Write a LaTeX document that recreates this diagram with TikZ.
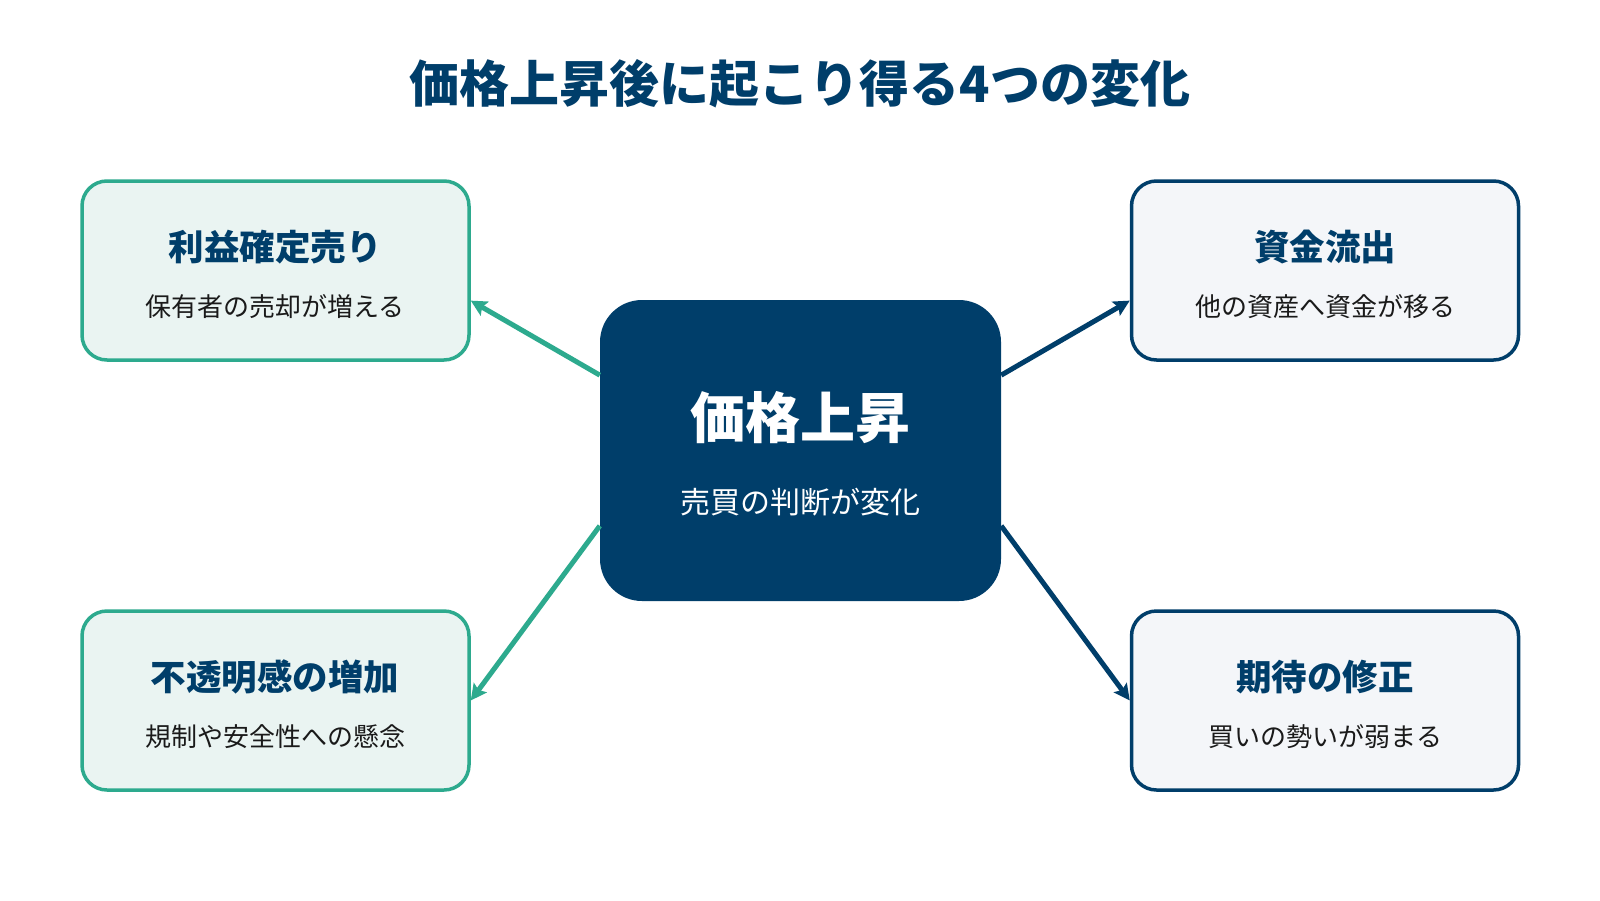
\documentclass[tikz,border=0pt]{standalone}
\usepackage{fontspec}
\setmainfont{Noto Sans CJK JP}
\usetikzlibrary{arrows.meta,calc}
\definecolor{navy}{HTML}{003E6A}
\definecolor{teal}{HTML}{2DAA8E}
\definecolor{tealfill}{HTML}{EAF4F2}
\definecolor{greyfill}{HTML}{F4F6F9}
\definecolor{bodytxt}{HTML}{1A1A1A}
\tikzset{
  sidebox/.style={rectangle, rounded corners=25pt, line width=3.5pt, minimum width=387pt, minimum height=179pt, inner sep=0pt},
  tealbox/.style={sidebox, draw=teal, fill=tealfill},
  navybox/.style={sidebox, draw=navy, fill=greyfill},
  boxtitle/.style={font=\fontsize{35.5}{42}\selectfont\bfseries, text=navy, inner sep=0pt},
  boxsub/.style={font=\fontsize{26}{31}\selectfont, text=bodytxt, inner sep=0pt},
  tealarrow/.style={draw=teal, line width=5pt, -{Stealth[length=16pt,width=16pt,inset=3pt]}},
  navyarrow/.style={draw=navy, line width=5pt, -{Stealth[length=16pt,width=16pt,inset=3pt]}},
}
\begin{document}
\begin{tikzpicture}[x=1pt,y=-1pt]
\useasboundingbox (0,0) rectangle (1600,900);
\fill[white] (0,0) rectangle (1600,900);
\node[font=\fontsize{50}{58}\selectfont\bfseries, text=navy, inner sep=0pt] (title) at (800,84) {価格上昇後に起こり得る4つの変化};

\node[rectangle, rounded corners=42pt, fill=navy, minimum width=401pt, minimum height=301pt, inner sep=0pt] (c) at (800.5,450.5) {};
\node[font=\fontsize{55}{62}\selectfont\bfseries, text=white, inner sep=0pt] (ct) at (800,418) {価格上昇};
\node[font=\fontsize{30}{36}\selectfont, text=white, inner sep=0pt] (cs) at (800,502) {売買の判断が変化};

\node[tealbox] (tl) at (275.5,270.5) {};
\node[boxtitle] (tlt) at (275,247) {利益確定売り};
\node[boxsub] (tls) at (275,307) {保有者の売却が増える};

\node[navybox] (tr) at (1325,270.5) {};
\node[boxtitle] (trt) at (1325,247) {資金流出};
\node[boxsub] (trs) at (1325,307) {他の資産へ資金が移る};

\node[tealbox] (bl) at (275.5,700.5) {};
\node[boxtitle] (blt) at (275,677) {不透明感の増加};
\node[boxsub] (bls) at (275,737) {規制や安全性への懸念};

\node[navybox] (br) at (1325,700.5) {};
\node[boxtitle] (brt) at (1325,677) {期待の修正};
\node[boxsub] (brs) at (1325,737) {買いの勢いが弱まる};

\draw[tealarrow] ($(c.north west)!0.25!(c.south west)$) -- ($(tl.north east)!0.665!(tl.south east)$);
\draw[navyarrow] ($(c.north east)!0.25!(c.south east)$) -- ($(tr.north west)!0.665!(tr.south west)$);
\draw[tealarrow] ($(c.north west)!0.75!(c.south west)$) -- (bl.east);
\draw[navyarrow] ($(c.north east)!0.75!(c.south east)$) -- (br.west);
\end{tikzpicture}
\end{document}
